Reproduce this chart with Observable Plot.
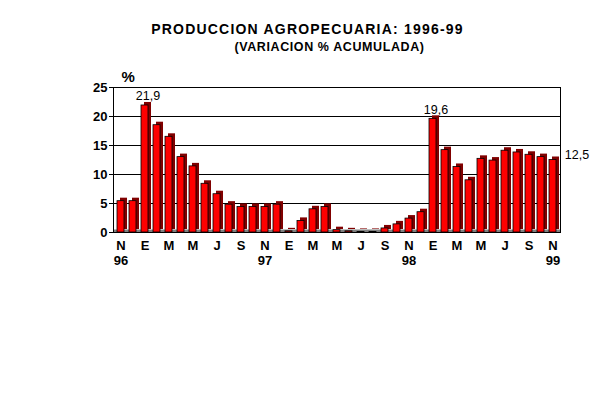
<!DOCTYPE html>
<html>
<head>
<meta charset="utf-8">
<script src="https://cdn.jsdelivr.net/npm/d3@7"></script>
<script src="https://cdn.jsdelivr.net/npm/@observablehq/plot@0.6"></script>
<style>
  html, body { margin: 0; padding: 0; background: #fff; }
  #wrap { width: 615px; font-family: "Liberation Sans", Arial, sans-serif; }
  #title { height: 60px; position: relative; }
  #t1 { position: absolute; left: 0; width: 615px; top: 20px; text-align: center; font-size: 14px; font-weight: bold; letter-spacing: 1.2px; line-height: 18px; }
  #t2 { position: absolute; left: 22px; width: 615px; top: 40px; text-align: center; font-size: 12.5px; font-weight: bold; letter-spacing: 0.6px; line-height: 14px; }
  svg { display: block; }
</style>
</head>
<body>
<div id="wrap">
  <div id="title">
    <div id="t1">PRODUCCION AGROPECUARIA: 1996-99</div>
    <div id="t2">(VARIACION % ACUMULADA)</div>
  </div>
  <div id="chart"></div>
</div>
<script>
const months = ["N","D","E","F","M","A","M","J","J","A","S","O","N","D",
                "E","F","M","A","M","J","J","A","S","O","N","D",
                "E","F","M","A","M","J","J","A","S","O","N"];
const values = [5.4, 5.4, 21.9, 18.5, 16.5, 13.0, 11.4, 8.4, 6.6, 4.8, 4.4, 4.4, 4.4, 4.8,
                0.2, 2.0, 4.0, 4.4, 0.4, 0.2, 0.1, 0.1, 0.7, 1.4, 2.4, 3.5,
                19.6, 14.2, 11.3, 9.0, 12.7, 12.4, 14.1, 13.8, 13.4, 13.0, 12.5];
const yearLabels = [{i: 0, t: "96"}, {i: 12, t: "97"}, {i: 24, t: "98"}, {i: 36, t: "99"}];
const valueLabels = [{i: 2, t: "21,9"}, {i: 26, t: "19,6"}];
const yTicks = [0, 5, 10, 15, 20, 25];

const data = values.map((v, i) => ({i, v, m: months[i]}));
const font = "Liberation Sans, Arial, sans-serif";

const chart = Plot.plot({
  width: 615,
  height: 336,
  marginLeft: 113,
  marginRight: 55,
  marginTop: 27,
  marginBottom: 164,
  style: {fontFamily: font, background: "white"},
  x: {type: "band", domain: d3.range(values.length), paddingInner: 0.42, paddingOuter: 0.1, axis: null},
  y: {domain: [0, 25], axis: null},
  marks: [
    Plot.ruleY(yTicks.slice(1), {stroke: "black", strokeWidth: 1}),
    Plot.ruleY([0], {stroke: "#808080", strokeWidth: 3, dy: -1.5}),
    Plot.ruleY([0], {stroke: "black", strokeWidth: 1}),
    Plot.frame({stroke: "black", strokeWidth: 1}),
    Plot.axisY({ticks: yTicks, tickSize: 4, tickPadding: 2, fontSize: 13, fontWeight: "bold", tickFormat: d => d, stroke: "black", label: null}),
    Plot.text(["%"], {frameAnchor: "top-left", dx: 8, dy: -16, fontSize: 15, fontWeight: "bold", text: d => d}),
    Plot.barY(data, {x: "i", y: "v", fill: "#800000", dx: 3, dy: -3}),
    Plot.barY(data, {x: "i", y: "v", fill: "#ff0000", stroke: "black", strokeWidth: 0.8}),
    Plot.text(valueLabels, {x: "i", y: d => values[d.i], text: "t", dx: 3, dy: -5, lineAnchor: "bottom", fontSize: 12.5}),
    Plot.text([values.length - 1], {x: d => d, y: d => values[d], text: () => "12,5", dx: 24, dy: -5, fontSize: 12.5}),
    Plot.text(data.filter(d => d.i % 2 === 0), {x: "i", y: 0, text: "m", dy: 13, fontSize: 13, fontWeight: "bold"}),
    Plot.text(yearLabels, {x: "i", y: 0, text: "t", dy: 28, fontSize: 13, fontWeight: "bold"})
  ]
});
document.getElementById("chart").appendChild(chart);
</script>
</body>
</html>
